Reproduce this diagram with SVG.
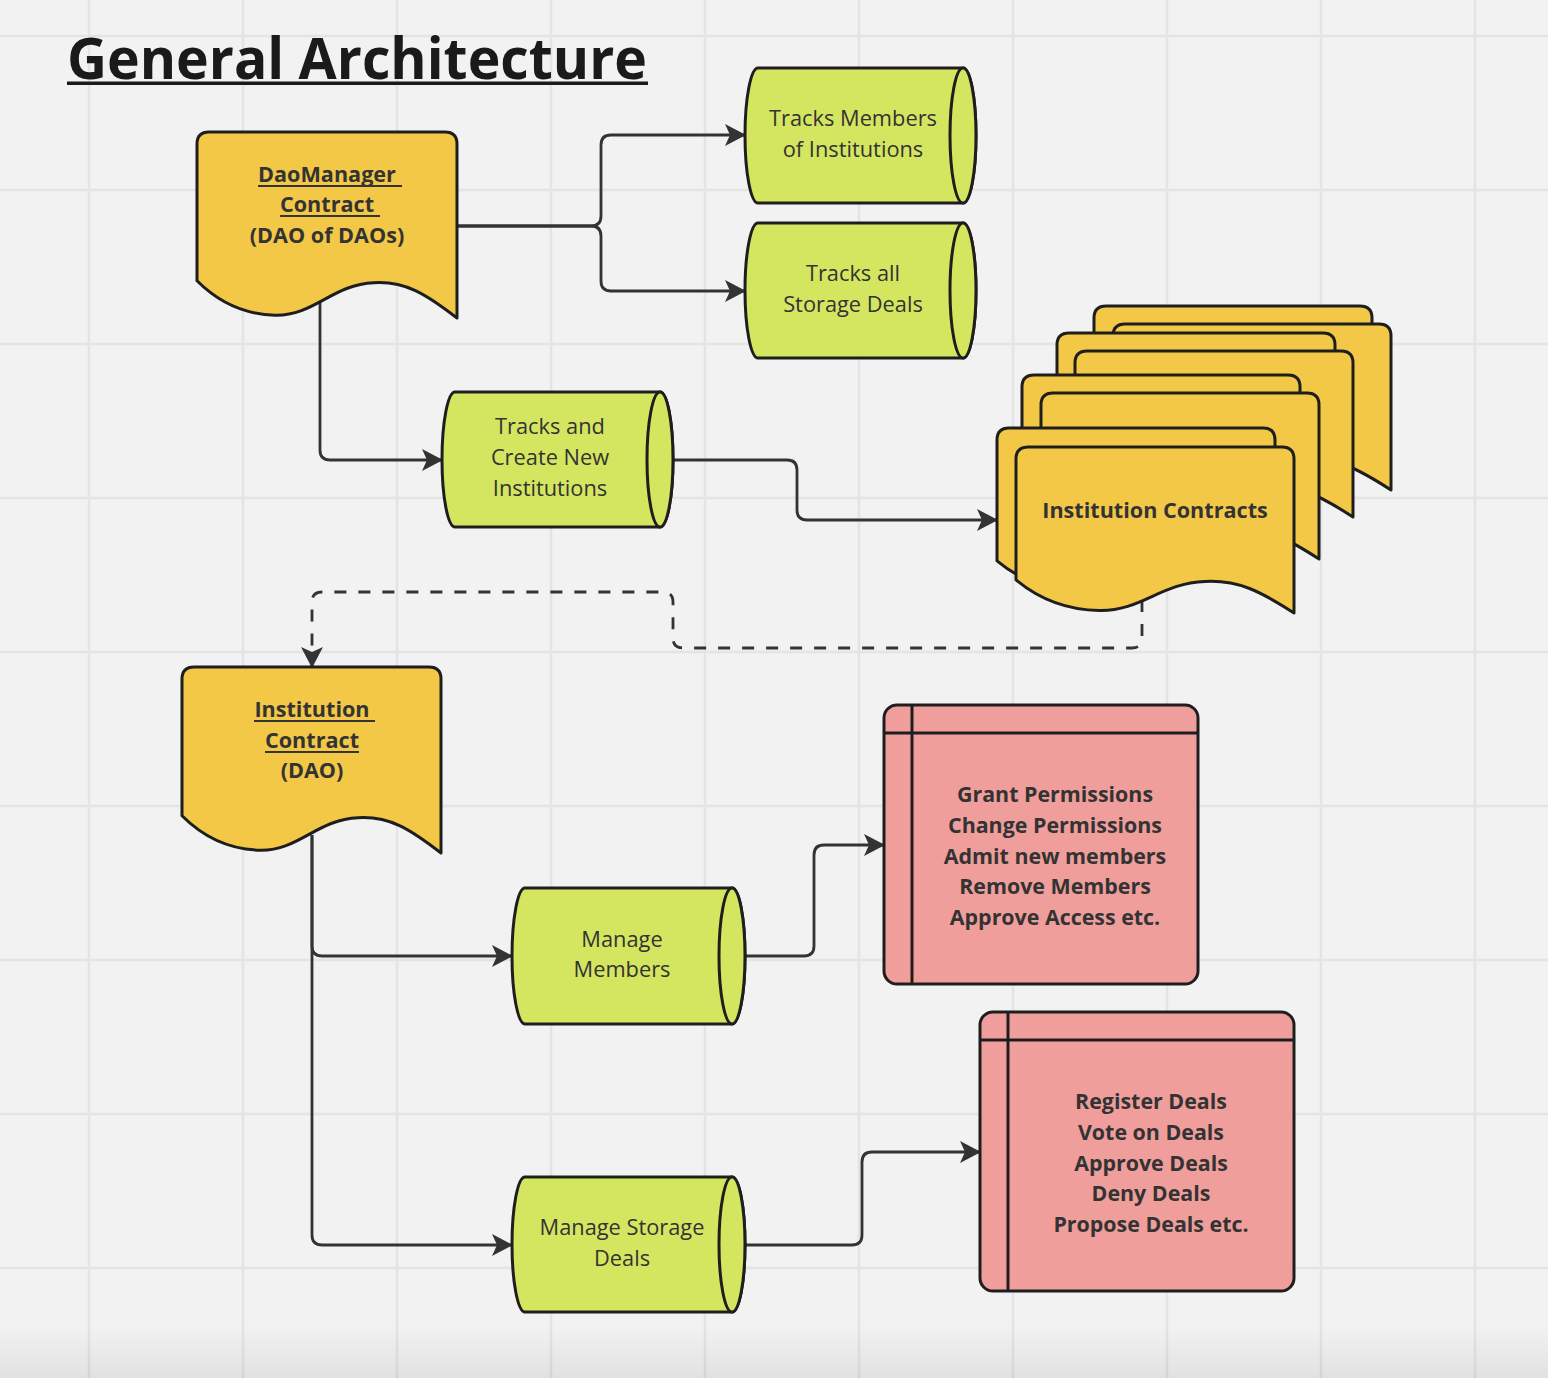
<svg xmlns="http://www.w3.org/2000/svg" xmlns:xlink="http://www.w3.org/1999/xlink" width="1548" height="1378" viewBox="0 0 1548 1378">
<style>
.grid{stroke:#e4e4e4;stroke-width:2.5;fill:none}
.conn{stroke:#333;stroke-width:2.8;fill:none;stroke-linejoin:round}
.dash{stroke-dasharray:12 12}
.doc{fill:#f3c846;stroke:#1e1e1e;stroke-width:3;stroke-linejoin:round}
.cyl{fill:#d4e660;stroke:#1e1e1e;stroke-width:3;stroke-linejoin:round}
.card{fill:#f09e9b;stroke:#1e1e1e;stroke-width:3}
.div{stroke:#1e1e1e;stroke-width:3;fill:none}
.ul{stroke:#333;stroke-width:2}
text{font-family:"Open Sans","Noto Sans","Liberation Sans",sans-serif;fill:#333;text-anchor:middle}
.b{font-weight:700;font-size:21.6px}
.r{font-weight:400;font-size:21.8px}
.rb{font-weight:700;font-size:21.4px}
.title{font-weight:700;font-size:57px;fill:#1a1a1a;text-anchor:start}
</style>
<defs>
<marker id="arr" markerUnits="userSpaceOnUse" markerWidth="21" markerHeight="22" viewBox="0 0 21 22" refX="20" refY="11" orient="auto">
<path d="M0,0 L21,11 L0,22 L5,11 Z" fill="#333"/>
</marker>
<path id="stackDoc" d="M0,12 Q0,0 12,0 L266,0 Q278,0 278,12 L278,166 C244.6,144.4 222.4,132.8 189,134.5 C144.6,136.1 125.1,164.3 83.4,163.5 C41.7,162.7 13.9,144.4 0,132.8 Z"/>
<linearGradient id="shade" x1="0" y1="0" x2="0" y2="1">
<stop offset="0" stop-color="#000" stop-opacity="0"/>
<stop offset="1" stop-color="#000" stop-opacity="0.07"/>
</linearGradient>
</defs>
<rect width="1548" height="1378" fill="#f2f2f2"/>
<path class="grid" d="M89,0V1378M243,0V1378M397,0V1378M551,0V1378M705,0V1378M859,0V1378M1013,0V1378M1167,0V1378M1321,0V1378M1475,0V1378M0,36H1548M0,190H1548M0,344H1548M0,498H1548M0,652H1548M0,806H1548M0,960H1548M0,1114H1548M0,1268H1548"/>
<rect x="0" y="1325" width="1548" height="53" fill="url(#shade)"/>

<g id="title">
<text class="title" x="67" y="79" textLength="580" lengthAdjust="spacingAndGlyphs">General Architecture</text>
<rect x="67" y="81.5" width="581" height="3.5" fill="#1a1a1a"/>
</g>

<g id="connectors">
<path class="conn" marker-end="url(#arr)" d="M457,226 L591,226 Q601,226 601,216 L601,145 Q601,135 611,135 L745,135"/>
<path class="conn" marker-end="url(#arr)" d="M457,226 L591,226 Q601,226 601,236 L601,281 Q601,291 611,291 L745,291"/>
<path class="conn" marker-end="url(#arr)" d="M320,300 L320,450 Q320,460 330,460 L442,460"/>
<path class="conn" marker-end="url(#arr)" d="M673,460 L787,460 Q797,460 797,470 L797,510 Q797,520 807,520 L997,520"/>
<path class="conn dash" marker-end="url(#arr)" d="M1142,600 L1142,638 Q1142,648 1132,648 L683,648 Q673,648 673,638 L673,602 Q673,592 663,592 L322,592 Q312,592 312,602 L312,667"/>
<path class="conn" marker-end="url(#arr)" d="M312,835 L312,946 Q312,956 322,956 L512,956"/>
<path class="conn" marker-end="url(#arr)" d="M312,835 L312,1235 Q312,1245 322,1245 L512,1245"/>
<path class="conn" marker-end="url(#arr)" d="M745,956 L804,956 Q814,956 814,946 L814,855 Q814,845 824,845 L884,845"/>
<path class="conn" marker-end="url(#arr)" d="M745,1245 L852,1245 Q862,1245 862,1235 L862,1162 Q862,1152 872,1152 L980,1152"/>
</g>

<g id="daomanager">
<path class="doc" d="M197,144 Q197,132 209,132 L445,132 Q457,132 457,144 L457,318 C425.8,293.8 405,280.8 373.8,282.7 C332.2,284.5 314,316.1 275,315.2 C236,314.3 210,293.8 197,280.8 Z"/>
<text class="b" x="327" y="182">DaoManager</text>
<line class="ul" x1="258" y1="186" x2="402" y2="186"/>
<text class="b" x="327" y="212">Contract</text>
<line class="ul" x1="280" y1="216" x2="380" y2="216"/>
<text class="b" x="327" y="243">(DAO of DAOs)</text>
</g>

<g id="tracks-members">
<path class="cyl" d="M758,68 L963,68 A13,67.5 0 0 1 963,203 L758,203 A13,67.5 0 0 1 758,68 Z"/>
<ellipse class="cyl" cx="963" cy="135.5" rx="13" ry="67.5"/>
<text class="r" x="853" y="126">Tracks Members</text>
<text class="r" x="853" y="157">of Institutions</text>
</g>

<g id="tracks-deals">
<path class="cyl" d="M758,223 L963,223 A13,67.5 0 0 1 963,358 L758,358 A13,67.5 0 0 1 758,223 Z"/>
<ellipse class="cyl" cx="963" cy="290.5" rx="13" ry="67.5"/>
<text class="r" x="853" y="281">Tracks all</text>
<text class="r" x="853" y="312">Storage Deals</text>
</g>

<g id="tracks-create">
<path class="cyl" d="M455,392 L660,392 A13,67.5 0 0 1 660,527 L455,527 A13,67.5 0 0 1 455,392 Z"/>
<ellipse class="cyl" cx="660" cy="459.5" rx="13" ry="67.5"/>
<text class="r" x="550" y="434">Tracks and</text>
<text class="r" x="550" y="465">Create New</text>
<text class="r" x="550" y="496">Institutions</text>
</g>

<g id="institution-contracts">
<use href="#stackDoc" class="doc" transform="translate(1094,306)"/>
<use href="#stackDoc" class="doc" transform="translate(1113,324)"/>
<use href="#stackDoc" class="doc" transform="translate(1057,333)"/>
<use href="#stackDoc" class="doc" transform="translate(1075,351)"/>
<use href="#stackDoc" class="doc" transform="translate(1022,375)"/>
<use href="#stackDoc" class="doc" transform="translate(1041,393)"/>
<use href="#stackDoc" class="doc" transform="translate(997,428)"/>
<use href="#stackDoc" class="doc" transform="translate(1016,447)"/>
<text class="b" x="1155" y="518">Institution Contracts</text>
</g>

<g id="institution-contract">
<path class="doc" d="M182,679 Q182,667 194,667 L429,667 Q441,667 441,679 L441,853 C409.9,828.8 389.2,815.8 358.1,817.7 C316.7,819.5 298.6,851.1 259.7,850.2 C220.9,849.3 195,828.8 182,815.8 Z"/>
<text class="b" x="312" y="717">Institution</text>
<line class="ul" x1="254" y1="721" x2="375" y2="721"/>
<text class="b" x="312" y="748">Contract</text>
<line class="ul" x1="265" y1="752" x2="359" y2="752"/>
<text class="b" x="312" y="778">(DAO)</text>
</g>

<g id="manage-members">
<path class="cyl" d="M525,888 L732,888 A13,68 0 0 1 732,1024 L525,1024 A13,68 0 0 1 525,888 Z"/>
<ellipse class="cyl" cx="732" cy="956" rx="13" ry="68"/>
<text class="r" x="622" y="947">Manage</text>
<text class="r" x="622" y="977">Members</text>
</g>

<g id="manage-deals">
<path class="cyl" d="M525,1177 L732,1177 A13,67.5 0 0 1 732,1312 L525,1312 A13,67.5 0 0 1 525,1177 Z"/>
<ellipse class="cyl" cx="732" cy="1244.5" rx="13" ry="67.5"/>
<text class="r" x="622" y="1235">Manage Storage</text>
<text class="r" x="622" y="1266">Deals</text>
</g>

<g id="permissions">
<rect class="card" x="884" y="705" width="314" height="279" rx="13"/>
<path class="div" d="M884,733 H1198 M912,705 V984"/>
<text class="rb" x="1055" y="802">Grant Permissions</text>
<text class="rb" x="1055" y="833">Change Permissions</text>
<text class="rb" x="1055" y="864">Admit new members</text>
<text class="rb" x="1055" y="894">Remove Members</text>
<text class="rb" x="1055" y="925">Approve Access etc.</text>
</g>

<g id="deals">
<rect class="card" x="980" y="1012" width="314" height="279" rx="13"/>
<path class="div" d="M980,1040 H1294 M1008,1012 V1291"/>
<text class="rb" x="1151" y="1109">Register Deals</text>
<text class="rb" x="1151" y="1140">Vote on Deals</text>
<text class="rb" x="1151" y="1171">Approve Deals</text>
<text class="rb" x="1151" y="1201">Deny Deals</text>
<text class="rb" x="1151" y="1232">Propose Deals etc.</text>
</g>
</svg>
